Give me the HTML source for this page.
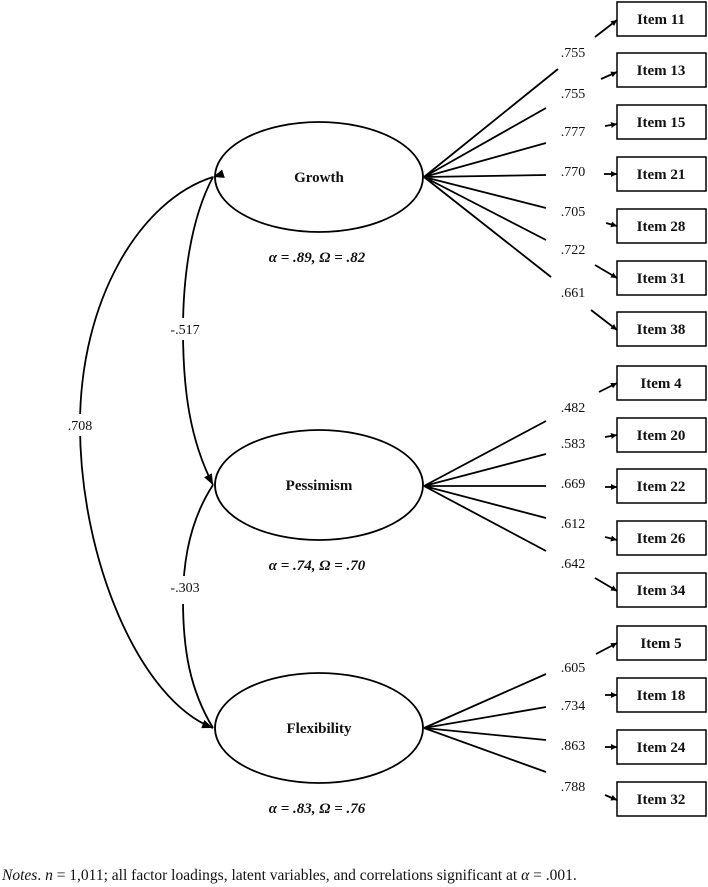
<!DOCTYPE html>
<html><head><meta charset="utf-8"><style>
html,body{margin:0;padding:0;background:#fff;}
svg{display:block;}
text{font-family:"Liberation Serif",serif;fill:#111;}
</style></head><body>
<svg width="708" height="887" viewBox="0 0 708 887" xmlns="http://www.w3.org/2000/svg">
<defs>
<marker id="ah" viewBox="0 0 10 10" refX="10" refY="5" markerWidth="6" markerHeight="6" orient="auto" markerUnits="userSpaceOnUse">
<path d="M0,0 L10,5 L0,10 z" fill="#000"/></marker>
<marker id="ah2" viewBox="0 0 10 10" refX="10" refY="5" markerWidth="11" markerHeight="11" orient="auto" markerUnits="userSpaceOnUse">
<path d="M0,1 L10,5 L0,9 z" fill="#000"/></marker>
</defs>
<g fill="none" stroke="#000" stroke-width="1.8">
<!-- correlations -->
<path d="M213,177 C140,200 80,300 80,425 C80,560 140,700 213,728" marker-start="url(#ah2)" marker-end="url(#ah2)"/>
<path d="M213,177 C190,220 183,280 183,330 C183,390 190,440 213,485" marker-end="url(#ah2)"/>
<path d="M213,485 C190,520 183,560 183,600 C183,650 190,690 213,728"/>
<!-- ellipses -->
<ellipse cx="319" cy="177" rx="104" ry="55"/>
<ellipse cx="319" cy="485" rx="104" ry="55"/>
<ellipse cx="319" cy="728" rx="104" ry="55"/>
<!-- loadings growth -->
<path d="M424,177 L558,69 M424,177 L546,108 M424,177 L546,143 M424,177 L546,175 M424,177 L546,208 M424,177 L546,240 M424,177 L551,277"/>
<path d="M424,486 L546,421 M424,486 L546,454 M424,486 L546,486 M424,486 L546,518 M424,486 L546,551"/>
<path d="M424,728 L546,674 M424,728 L546,707 M424,728 L546,740 M424,728 L546,772"/>
<!-- boxes -->
<g stroke-width="1.5">
<rect x="617" y="2" width="89" height="34"/>
<rect x="617" y="53" width="89" height="34"/>
<rect x="617" y="105" width="89" height="34"/>
<rect x="617" y="157" width="89" height="34"/>
<rect x="617" y="209" width="89" height="34"/>
<rect x="617" y="261" width="89" height="34"/>
<rect x="617" y="312" width="89" height="34"/>
<rect x="617" y="366" width="89" height="34"/>
<rect x="617" y="418" width="89" height="34"/>
<rect x="617" y="469" width="89" height="34"/>
<rect x="617" y="521" width="89" height="34"/>
<rect x="617" y="573" width="89" height="34"/>
<rect x="617" y="626" width="89" height="34"/>
<rect x="617" y="678" width="89" height="34"/>
<rect x="617" y="730" width="89" height="34"/>
<rect x="617" y="782" width="89" height="34"/>
</g>
<!-- short arrows -->
<g marker-end="url(#ah)">
<path d="M595,37 L617,20"/><path d="M601,79 L617,72"/><path d="M605,126 L617,124"/><path d="M604,174 L617,174"/>
<path d="M606,223 L617,226"/><path d="M595,265 L617,278"/><path d="M591,310 L617,330"/>
<path d="M599,392 L617,383"/><path d="M605,437 L617,435"/><path d="M605,487 L617,487"/><path d="M605,537 L617,540"/><path d="M595,578 L617,591"/>
<path d="M596,654 L617,643"/><path d="M605,695 L617,695"/><path d="M605,747 L617,747"/><path d="M605,795 L617,800"/>
</g>
</g>
<!-- correlation labels with white bg -->
<rect x="62" y="414" width="36" height="22" fill="#fff"/>
<rect x="165" y="318" width="40" height="22" fill="#fff"/>
<rect x="165" y="576" width="40" height="28" fill="#fff"/>
<g font-size="14" text-anchor="middle">
<text x="80" y="430">.708</text>
<text x="185" y="334">-.517</text>
<text x="185" y="592">-.303</text>
</g>
<!-- factor labels -->
<g font-size="15" font-weight="bold" text-anchor="middle">
<text x="319" y="182">Growth</text>
<text x="319" y="490">Pessimism</text>
<text x="319" y="733">Flexibility</text>
</g>
<g font-size="15" font-style="italic" font-weight="bold" text-anchor="middle" fill="#333">
<text x="317" y="262">α = .89, Ω = .82</text>
<text x="317" y="570">α = .74, Ω = .70</text>
<text x="317" y="813">α = .83, Ω = .76</text>
</g>
<!-- loading labels -->
<g font-size="14" text-anchor="middle">
<text x="573" y="57">.755</text><text x="573" y="98">.755</text><text x="573" y="136">.777</text><text x="573" y="176">.770</text>
<text x="573" y="216">.705</text><text x="573" y="254">.722</text><text x="573" y="297">.661</text>
<text x="573" y="412">.482</text><text x="573" y="448">.583</text><text x="573" y="488">.669</text><text x="573" y="528">.612</text><text x="573" y="568">.642</text>
<text x="573" y="672">.605</text><text x="573" y="710">.734</text><text x="573" y="750">.863</text><text x="573" y="791">.788</text>
</g>
<!-- item labels -->
<g font-size="15" font-weight="bold" text-anchor="middle">
<text x="661" y="24">Item 11</text><text x="661" y="75">Item 13</text><text x="661" y="127">Item 15</text><text x="661" y="179">Item 21</text>
<text x="661" y="231">Item 28</text><text x="661" y="283">Item 31</text><text x="661" y="334">Item 38</text>
<text x="661" y="388">Item 4</text><text x="661" y="440">Item 20</text><text x="661" y="491">Item 22</text><text x="661" y="543">Item 26</text><text x="661" y="595">Item 34</text>
<text x="661" y="648">Item 5</text><text x="661" y="700">Item 18</text><text x="661" y="752">Item 24</text><text x="661" y="804">Item 32</text>
</g>
<text x="2" y="880" font-size="15.5"><tspan font-style="italic">Notes</tspan>. <tspan font-style="italic">n</tspan> = 1,011; all factor loadings, latent variables, and correlations significant at <tspan font-style="italic">α</tspan> = .001.</text>
</svg>
</body></html>
